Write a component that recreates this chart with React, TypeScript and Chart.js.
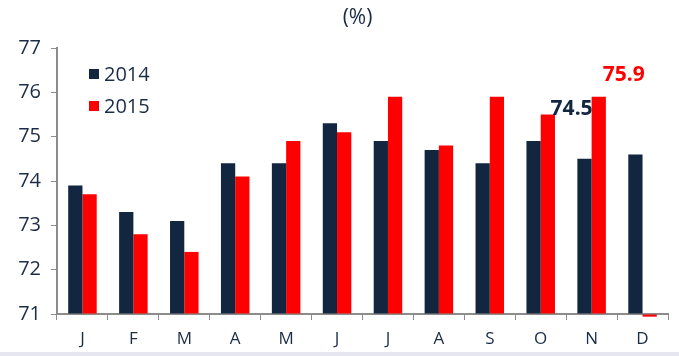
import React, { useEffect, useRef } from "react";
import { Chart, registerables } from "chart.js";

Chart.register(...registerables);

const categories = ["J", "F", "M", "A", "M", "J", "J", "A", "S", "O", "N", "D"];
const series2014 = [73.9, 73.3, 73.1, 74.4, 74.4, 75.3, 74.9, 74.7, 74.4, 74.9, 74.5, 74.6];
const series2015 = [73.7, 72.8, 72.4, 74.1, 74.9, 75.1, 75.9, 74.8, 75.9, 75.5, 75.9, 70.94];
const seriesNames = ["2014", "2015"];
const seriesColors = ["#12263f", "#ff0000"];
const yTicks = [71, 72, 73, 74, 75, 76, 77];
const axisMin = 71;
const axisMax = 77;
const calloutIndex = 10;
const calloutLabels = ["74.5", "75.9"];
const titleText = "(%)";

const textColor = "#1b2c47";
const axisColor = "#8c8c8c";
const FONT = "'Open Sans', 'DejaVu Sans', sans-serif";

export default function App() {
  const ref = useRef<HTMLCanvasElement | null>(null);

  useEffect(() => {
    const canvas = ref.current;
    if (!canvas) return;

    const overlay = {
      id: "overlay",
      afterDatasetsDraw(chart: any) {
        const ctx = chart.ctx;
        const area = chart.chartArea;
        ctx.save();
        // title
        ctx.fillStyle = textColor;
        ctx.font = `21px ${FONT}`;
        ctx.textAlign = "center";
        ctx.textBaseline = "middle";
        ctx.fillText(titleText, (area.left + area.right) / 2 - 5, 18);
        // legend
        ctx.textAlign = "left";
        ctx.font = `20px ${FONT}`;
        seriesNames.forEach((name, i) => {
          const y = area.top + 26 + i * 32;
          ctx.fillStyle = seriesColors[i];
          ctx.fillRect(area.left + 32, y - 5, 10, 10);
          ctx.fillStyle = textColor;
          ctx.fillText(name, area.left + 47, y + 1);
        });
        // callouts
        const b0 = chart.getDatasetMeta(0).data[calloutIndex];
        const b1 = chart.getDatasetMeta(1).data[calloutIndex];
        ctx.font = `bold 21px ${FONT}`;
        ctx.textBaseline = "middle";
        ctx.fillStyle = seriesColors[0];
        ctx.textAlign = "right";
        ctx.fillText(calloutLabels[0], b0.x + b0.width / 2 + 1, b1.y + 12);
        ctx.fillStyle = seriesColors[1];
        ctx.textAlign = "center";
        ctx.fillText(calloutLabels[1], b1.x + 25, b1.y - 22);
        ctx.restore();
      },
    };

    const chart = new Chart(canvas, {
      type: "bar",
      data: {
        labels: categories,
        datasets: [
          { label: seriesNames[0], data: series2014, backgroundColor: seriesColors[0], base: axisMin, clip: false as any },
          { label: seriesNames[1], data: series2015, backgroundColor: seriesColors[1], base: axisMin, clip: false as any },
        ],
      },
      options: {
        responsive: false,
        animation: false,
        maintainAspectRatio: false,
        layout: { padding: { left: 0, right: 11, top: 48, bottom: 0 } },
        datasets: { bar: { categoryPercentage: 0.56, barPercentage: 1.0 } },
        plugins: {
          legend: { display: false },
          tooltip: { enabled: false },
          title: { display: false },
        },
        scales: {
          x: {
            offset: true,
            grid: {
              offset: true,
              drawOnChartArea: false,
              drawTicks: true,
              tickLength: 6,
              color: axisColor,
            },
            border: { color: axisColor, width: 2 },
            ticks: {
              color: textColor,
              font: { family: FONT, size: 17 },
              padding: 9,
            },
            afterFit: (s: any) => {
              s.height = 42;
            },
          },
          y: {
            min: axisMin,
            max: axisMax,
            afterBuildTicks: (s: any) => {
              s.ticks = yTicks.map((v) => ({ value: v }));
            },
            grid: {
              drawOnChartArea: false,
              drawTicks: true,
              tickLength: 6,
              color: axisColor,
            },
            border: { color: axisColor, width: 2 },
            ticks: {
              color: textColor,
              font: { family: FONT, size: 20 },
              padding: 10,
            },
            afterFit: (s: any) => {
              s.width = 57;
            },
          },
        },
      },
      plugins: [overlay],
    });

    return () => chart.destroy();
  }, []);

  return (
    <div style={{ position: "fixed", left: 0, top: 0, width: 679, height: 356, background: "#fff" }}>
      <canvas ref={ref} width={679} height={356} style={{ display: "block" }} />
      <div style={{ position: "absolute", left: 0, bottom: 0, width: 679, height: 4, background: "#e6e6f0" }} />
    </div>
  );
}
